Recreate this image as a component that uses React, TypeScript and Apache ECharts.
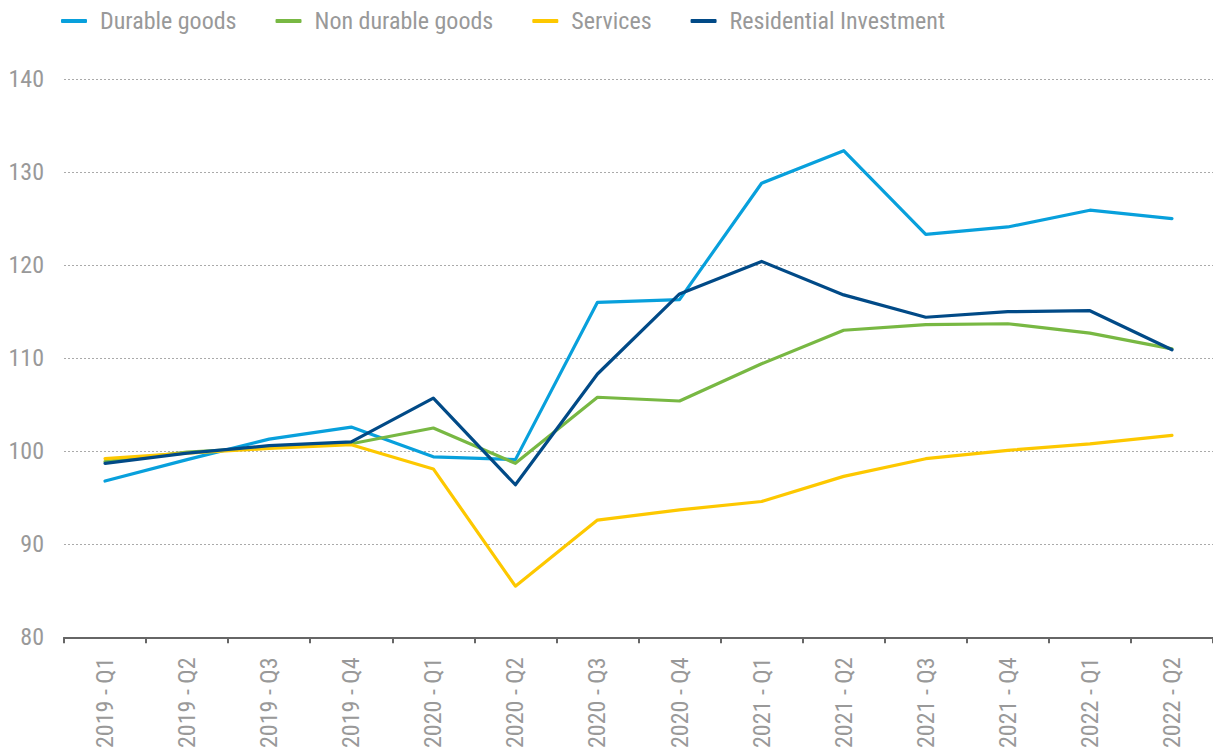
import React, { useEffect, useRef } from "react";
import * as echarts from "echarts";

const categories = [
  "2019 - Q1", "2019 - Q2", "2019 - Q3", "2019 - Q4",
  "2020 - Q1", "2020 - Q2", "2020 - Q3", "2020 - Q4",
  "2021 - Q1", "2021 - Q2", "2021 - Q3", "2021 - Q4",
  "2022 - Q1", "2022 - Q2",
];
const durableGoods = [96.8, 99.1, 101.3, 102.6, 99.4, 99.1, 116.0, 116.3, 128.8, 132.3, 123.3, 124.1, 125.9, 125.0];
const nonDurableGoods = [98.9, 99.9, 100.4, 100.8, 102.5, 98.7, 105.8, 105.4, 109.4, 113.0, 113.6, 113.7, 112.7, 111.0];
const services = [99.2, 99.8, 100.3, 100.7, 98.1, 85.5, 92.6, 93.7, 94.6, 97.3, 99.2, 100.1, 100.8, 101.7];
const residentialInvestment = [98.7, 99.8, 100.6, 101.0, 105.7, 96.4, 108.3, 116.9, 120.4, 116.8, 114.4, 115.0, 115.1, 110.9];
const yTicks = { min: 80, max: 140, interval: 10 };

const FONT = "'Roboto Condensed', 'Liberation Sans Narrow', Roboto, sans-serif";
const TEXT_COLOR = "#999999";

export default function App() {
  const ref = useRef<HTMLDivElement>(null);
  useEffect(() => {
    if (!ref.current) return;
    const chart = echarts.init(ref.current, undefined, { renderer: "svg" });
    const mk = (name: string, data: number[], color: string) => ({
      name,
      type: "line",
      data,
      symbol: "none",
      smooth: false,
      lineStyle: { color, width: 3.2, cap: "round", join: "round" },
      itemStyle: { color },
    });
    chart.setOption({
      animation: false,
      backgroundColor: "#ffffff",
      textStyle: { fontFamily: FONT },
      legend: {
        left: 56,
        top: 4,
        itemWidth: 26,
        itemHeight: 4,
        itemGap: 39,
        icon: "roundRect",
        textStyle: { fontFamily: FONT, fontSize: 24, color: TEXT_COLOR, padding: [0, 0, 0, 8] },
        data: ["Durable goods", "Non durable goods", "Services", "Residential Investment"],
      },
      grid: { left: 64, right: 0, top: 79, bottom: 112, containLabel: false },
      xAxis: {
        type: "category",
        data: categories,
        boundaryGap: true,
        axisLine: { show: true, lineStyle: { color: "#666", width: 2 } },
        axisTick: { show: true, length: 6, lineStyle: { color: "#666", width: 2 } },
        axisLabel: {
          rotate: 90,
          fontFamily: FONT,
          fontSize: 24,
          color: TEXT_COLOR,
          margin: 20,
          interval: 0,
        },
        splitLine: { show: false },
      },
      yAxis: {
        type: "value",
        min: yTicks.min,
        max: yTicks.max,
        interval: yTicks.interval,
        axisLine: { show: false },
        axisTick: { show: false },
        axisLabel: { fontFamily: FONT, fontSize: 24, color: TEXT_COLOR, margin: 20 },
        splitLine: { show: true, lineStyle: { color: "#aaaaaa", width: 1, type: [2, 2] } },
      },
      series: [
        mk("Durable goods", durableGoods, "#08a0dc"),
        mk("Non durable goods", nonDurableGoods, "#78b843"),
        mk("Services", services, "#fdc800"),
        mk("Residential Investment", residentialInvestment, "#014a87"),
      ],
    });
    return () => chart.dispose();
  }, []);
  return (
    <div
      ref={ref}
      style={{ position: "fixed", left: 0, top: 0, width: 1213, height: 751, background: "#fff" }}
    />
  );
}
